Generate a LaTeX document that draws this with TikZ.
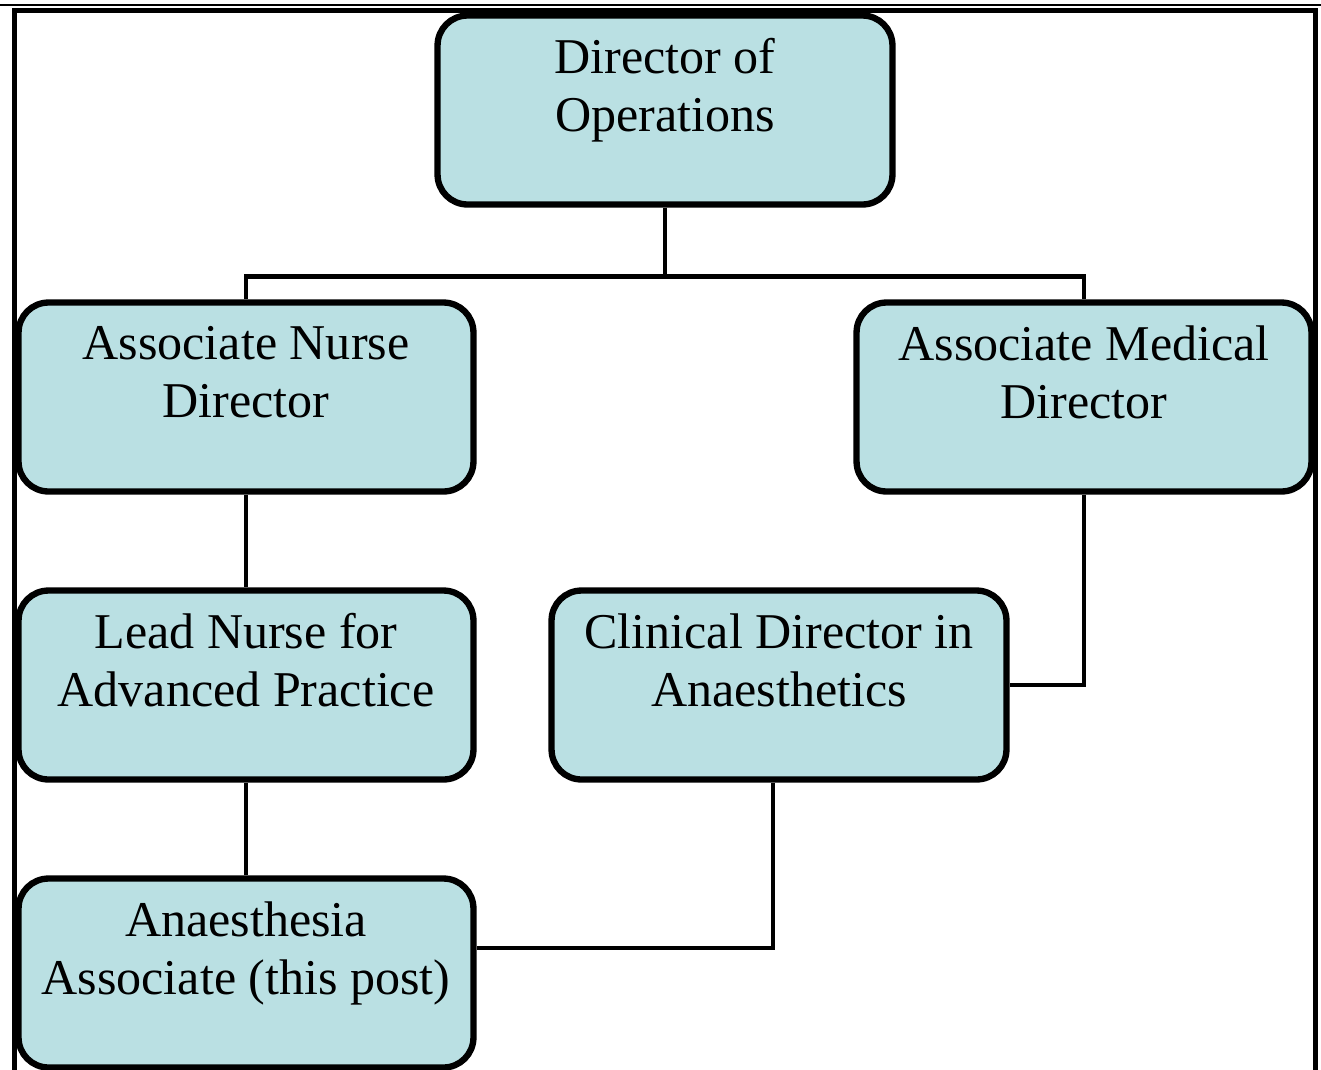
\documentclass[tikz,border=0pt]{standalone}
\usepackage{fontspec}
\setmainfont{Liberation Serif}
\usepackage{tikz}

\definecolor{postfill}{RGB}{186,224,227}
\tikzset{
	post/.style={draw=black, line width=3.6pt, fill=postfill, rounded corners=0.6cm,
		minimum width=9.1cm, minimum height=3.78cm, inner sep=0pt, align=center,
		font=\fontsize{28.5}{33}\selectfont},
	link/.style={black, line width=2.8pt}
}

\begin{document}
\begin{tikzpicture}[x=0.02cm, y=-0.02cm]
		\useasboundingbox (0,0) rectangle (1321,1069);
		\clip (0,0) rectangle (1321,1069);
		% frame
		\draw[black, line width=1.1pt] (0,5) -- (1321,5);
		\draw[black, line width=2.8pt] (14.5,10.5) rectangle (1315.5,1120);
		% posts
		\node[post] (dop) at (665, 110) {Director of\\Operations\\[-0.52cm]\strut};
		\node[post] (and) at (246, 397) {Associate Nurse\\Director\\[-0.52cm]\strut};
		\node[post] (amd) at (1084, 397) {Associate Medical\\Director\\[-0.52cm]\strut};
		\node[post] (lna) at (246, 685) {Lead Nurse for\\Advanced Practice\\[-0.52cm]\strut};
		\node[post] (cda) at (779, 685) {Clinical Director in\\Anaesthetics\\[-0.52cm]\strut};
		\node[post] (aa) at (246, 973) {Anaesthesia\\Associate (this post)\\[-0.52cm]\strut};
		% lines
		\draw[link] (dop.south) -- ++(0,69) -| (and.north);
		\draw[link] (dop.south) -- ++(0,69) -| (amd.north);
		\draw[link] (and.south) -- (lna.north);
		\draw[link] (lna.south) -- (aa.north);
		\draw[link] (amd.south) |- (cda.east);
		\draw[link] ([xshift=-0.12cm]cda.south) |- ([yshift=0.5cm]aa.east);
	\end{tikzpicture}
\end{document}
